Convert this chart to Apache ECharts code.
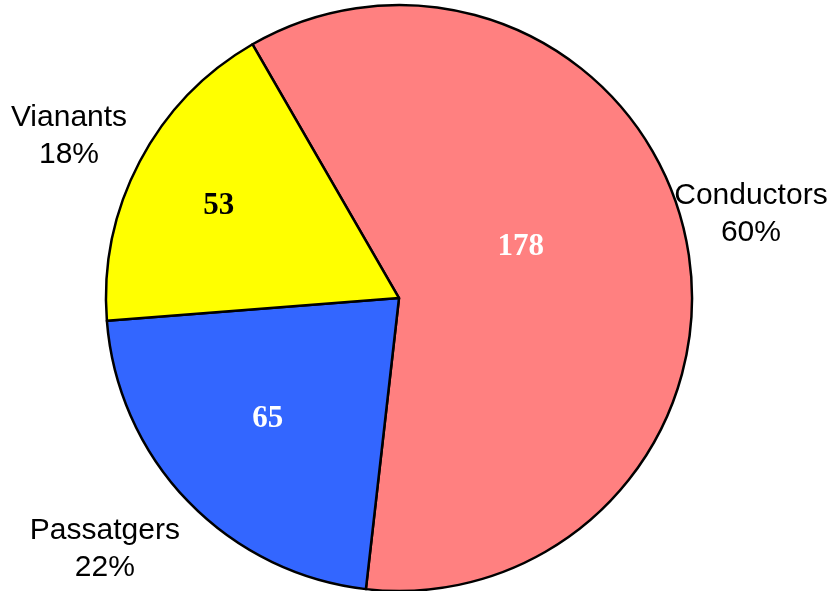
<!DOCTYPE html>
<html>
<head>
<meta charset="utf-8">
<script src="https://cdn.jsdelivr.net/npm/echarts@6/dist/echarts.min.js"></script>
<style>html,body{margin:0;padding:0;background:#fff;}#c{width:831px;height:591px;}</style>
</head>
<body>
<div id="c"></div>
<script>
// ---- data ----
const categories = ['Conductors', 'Passatgers', 'Vianants'];
const values = [178, 65, 53];

// ---- style / layout ----
const colors = ['#FF8080', '#3366FF', '#FFFF00'];
const valueLabelColors = ['#FFFFFF', '#FFFFFF', '#000000'];
const cx = 399, cy = 298, R = 293, startAngle = 120;
const innerRadiusFrac = [0.45, 0.61, 0.69];
const innerAngleShift = [10.8, -1.2, 0.8];
const outerRadiusFrac = [1.235, 1.32, 1.255];
const outerAngleShift = [1.7, -3.5, 1.6];

const total = values.reduce((a, b) => a + b, 0);
function midAngle(i) {
  let cum = 0;
  for (let j = 0; j < i; j++) cum += values[j];
  return startAngle - (cum + values[i] / 2) / total * 360;
}
function polar(i, frac, shift) {
  const a = (midAngle(i) + shift) * Math.PI / 180;
  const r = R * frac[i];
  return { x: cx + r * Math.cos(a), y: cy - r * Math.sin(a), align: 'center', verticalAlign: 'middle' };
}

const chart = echarts.init(document.getElementById('c'), null, { renderer: 'canvas' });
chart.setOption({
  animation: false,
  backgroundColor: '#ffffff',
  series: [
    {
      type: 'pie',
      center: [cx, cy],
      radius: [0, R],
      startAngle: startAngle,
      clockwise: true,
      silent: true,
      avoidLabelOverlap: false,
      percentPrecision: 0,
      itemStyle: { borderColor: '#000', borderWidth: 2.5 },
      emphasis: { disabled: true },
      label: {
        show: true,
        position: 'inside',
        formatter: '{c}',
        fontFamily: 'Liberation Serif',
        fontWeight: 'bold',
        fontSize: 31
      },
      labelLine: { show: false },
      labelLayout: p => polar(p.dataIndex, innerRadiusFrac, innerAngleShift[p.dataIndex]),
      data: categories.map((n, i) => ({
        name: n, value: values[i],
        itemStyle: { color: colors[i] },
        label: { color: valueLabelColors[i] }
      }))
    },
    {
      type: 'pie',
      center: [cx, cy],
      radius: [0, R],
      startAngle: startAngle,
      clockwise: true,
      silent: true,
      avoidLabelOverlap: false,
      percentPrecision: 0,
      itemStyle: { color: 'rgba(0,0,0,0)', borderWidth: 0 },
      emphasis: { disabled: true },
      label: {
        show: true,
        position: 'inside',
        formatter: '{b}\n{d}%',
        fontFamily: 'Liberation Sans',
        fontSize: 30,
        lineHeight: 37,
        color: '#000'
      },
      labelLine: { show: false },
      labelLayout: p => polar(p.dataIndex, outerRadiusFrac, outerAngleShift[p.dataIndex]),
      data: categories.map((n, i) => ({ name: n, value: values[i] }))
    }
  ]
});
</script>
</body>
</html>
